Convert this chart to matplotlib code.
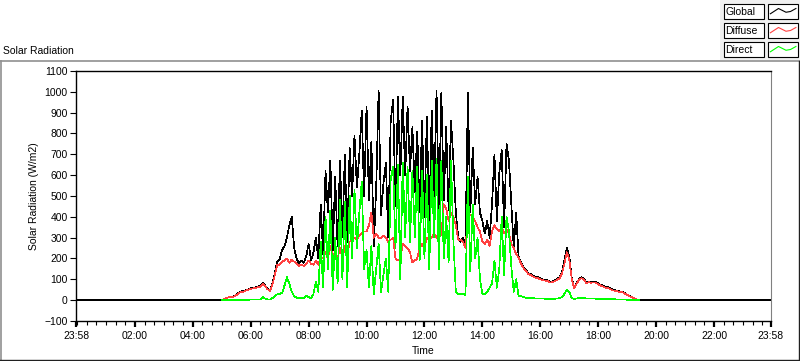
import numpy as np
import pandas as pd
import matplotlib
matplotlib.use('Agg')
import matplotlib.pyplot as plt
from matplotlib.patches import Rectangle
from matplotlib.ticker import MultipleLocator

plt.rcParams['font.family'] = ['Liberation Sans', 'DejaVu Sans']
plt.rcParams['font.size'] = 7.5

# samples every 5 min from 05:00 to 19:25 (W/m2), night is 0
day_start = '05:00'
day_end = '19:25'

global_rad = [
    2, 5, 10, 14, 15, 18, 25, 35, 42, 43, 48, 52,                       # 05
    57, 58, 62, 65, 68, 82, 70, 55, 48, 80, 130, 185,                   # 06
    195, 240, 260, 300, 360, 400, 250, 200, 175, 190, 180, 210,         # 07
    270, 190, 230, 300, 200, 460, 220, 620, 420, 670, 240, 590,         # 08
    260, 670, 300, 700, 280, 730, 500, 790, 540, 700, 910, 500,         # 09
    930, 480, 760, 260, 540, 1005, 410, 560, 660, 300, 860, 960,        # 10
    450, 975, 600, 975, 600, 930, 620, 830, 520, 810, 420, 860,         # 11
    400, 880, 360, 910, 500, 1005, 420, 995, 480, 830, 430, 860,        # 12
    670, 420, 300, 280, 300, 260, 995, 420, 730, 460, 590, 420,         # 13
    380, 320, 380, 300, 460, 700, 380, 610, 720, 350, 750, 670,         # 14
    460, 250, 420, 210, 180, 160, 145, 130, 125, 118, 112, 110,         # 15
    104, 100, 98, 96, 88, 90, 96, 102, 110, 136, 190, 250,              # 16
    210, 110, 60, 80, 100, 110, 105, 85, 90, 88, 90, 88,                # 17
    80, 74, 70, 64, 62, 56, 50, 47, 44, 42, 40, 34,                     # 18
    26, 20, 15, 8, 3, 0,                                                # 19
]
diffuse_rad = [
    2, 5, 10, 14, 15, 17, 24, 33, 40, 41, 46, 50,
    55, 56, 59, 62, 65, 78, 66, 52, 45, 74, 120, 170,
    170, 185, 190, 200, 180, 195, 185, 175, 165, 170, 165, 175,
    190, 175, 170, 190, 170, 210, 200, 230, 200, 260, 210, 230,
    200, 250, 200, 260, 220, 280, 290, 300, 290, 310, 320, 330,
    330, 360, 420, 300, 320, 300, 300, 310, 300, 280, 290, 300,
    200, 190, 200, 270, 260, 250, 230, 180, 190, 200, 250, 270,
    250, 300, 290, 300, 320, 300, 330, 310, 460, 440, 380, 420,
    400, 360, 290, 290, 280, 250, 400, 410, 400, 380, 350, 330,
    280, 270, 290, 260, 330, 360, 340, 330, 350, 320, 340, 320,
    270, 250, 220, 205, 175, 155, 140, 126, 120, 113, 108, 106,
    100, 96, 94, 92, 85, 86, 92, 97, 105, 128, 175, 230,
    195, 105, 58, 77, 96, 105, 100, 82, 86, 84, 85, 84,
    76, 70, 66, 60, 58, 53, 47, 45, 42, 40, 38, 32,
    25, 19, 14, 8, 3, 0,
]
direct_rad = [
    0, 0, 0, 1, 1, 1, 2, 2, 2, 2, 2, 2,
    3, 3, 3, 3, 4, 14, 8, 3, 3, 10, 20, 28,
    30, 35, 70, 110, 80, 40, 20, 12, 8, 10, 10, 20,
    15, 10, 30, 90, 40, 280, 60, 400, 150, 430, 50, 300,
    80, 480, 100, 470, 60, 500, 200, 530, 250, 420, 570, 150,
    240, 60, 260, 30, 150, 270, 40, 120, 200, 40, 580, 640,
    250, 650, 100, 660, 300, 640, 280, 620, 300, 640, 190, 620,
    200, 600, 150, 670, 300, 680, 150, 670, 200, 400, 180, 670,
    280, 40, 30, 30, 30, 25, 590, 140, 460, 200, 300, 100,
    30, 30, 40, 60, 80, 190, 60, 150, 400, 120, 400, 330,
    160, 40, 100, 20, 20, 15, 12, 10, 10, 10, 8, 8,
    8, 8, 7, 7, 6, 6, 7, 8, 10, 15, 30, 50,
    40, 10, 6, 8, 10, 10, 10, 8, 8, 8, 8, 7,
    7, 6, 6, 5, 5, 4, 4, 4, 3, 3, 3, 3,
    2, 2, 1, 1, 0, 0,
]

x_tick_labels = ['23:58', '02:00', '04:00', '06:00', '08:00', '10:00', '12:00',
                 '14:00', '16:00', '18:00', '20:00', '22:00', '23:58']
y_ticks = list(range(-100, 1101, 100))
series_names = ['Global', 'Diffuse', 'Direct']
series_colors = ['#000000', '#ff4040', '#00ff00']

# hours since midnight
stamps = pd.date_range('2000-01-01 ' + day_start, '2000-01-01 ' + day_end, freq='5min')
day_hours = stamps.hour + stamps.minute / 60.0
t0 = -2 / 60.0
t1 = 24 - 2 / 60.0

full_hours = np.concatenate([[t0], day_hours, [t1]])
full_global = np.concatenate([[0], global_rad, [0]])

fig = plt.figure(figsize=(8, 3.61), dpi=100)

# background layer in pixel coordinates
bg = fig.add_axes([0, 0, 1, 1])
bg.set_xlim(0, 800)
bg.set_ylim(361, 0)
bg.axis('off')
bg.add_patch(Rectangle((720, 0), 80, 60, facecolor='#f0f0f0', edgecolor='none'))
bg.plot([0, 800], [61, 61], color='#909090', lw=1.2)
bg.plot([0.5, 0.5], [61, 361], color='#909090', lw=1.2)
bg.plot([0, 799], [360, 360], color='#202020', lw=1.0)
bg.plot([798.5, 798.5], [61, 361], color='#202020', lw=1.0)
bg.text(3, 51, 'Solar Radiation', ha='left', va='center', fontsize=7.5)

sample_x = np.array([0.08, 0.35, 0.6, 0.75, 0.93])
sample_y = np.array([0.65, 0.3, 0.55, 0.5, 0.3])
for i, (name, col) in enumerate(zip(series_names, series_colors)):
    top = 4 + i * 19
    bg.add_patch(Rectangle((723.5, top), 40, 15, facecolor='white', edgecolor='black', lw=0.8))
    bg.text(725.5, top + 8, name, ha='left', va='center', fontsize=7.5)
    bg.add_patch(Rectangle((768, top), 30, 15, facecolor='white', edgecolor='black', lw=0.8))
    bg.plot(768 + sample_x * 30, top + sample_y * 15, color=col, lw=0.8)

ax = fig.add_axes([76 / 800, 1 - 321 / 361, 695 / 800, 250 / 361])
ax.plot(full_hours, full_global, color=series_colors[0], lw=0.5, antialiased=False)
ax.plot(day_hours, diffuse_rad, color=series_colors[1], lw=0.5, antialiased=False)
ax.plot(day_hours, direct_rad, color=series_colors[2], lw=0.5, antialiased=False)

ax.set_xlim(t0, t1)
ax.set_ylim(-100, 1100)
ax.set_yticks(y_ticks)
ax.set_xticks([t0] + list(range(2, 24, 2)) + [t1])
ax.set_xticklabels(x_tick_labels)
ax.xaxis.set_minor_locator(MultipleLocator(1 / 3))
ax.tick_params(axis='x', which='major', length=4, width=1.6, pad=3)
ax.tick_params(axis='x', which='minor', length=3, width=0.8)
ax.tick_params(axis='y', length=4, width=0.8, pad=2)
ax.set_xlabel('Time', labelpad=4)
ax.set_ylabel('Solar Radiation (W/m2)', labelpad=4)
for side in ['left', 'top', 'bottom']:
    ax.spines[side].set_linewidth(1.0)
ax.spines['right'].set_color('#808080')

fig.savefig('out.png', dpi=100)
